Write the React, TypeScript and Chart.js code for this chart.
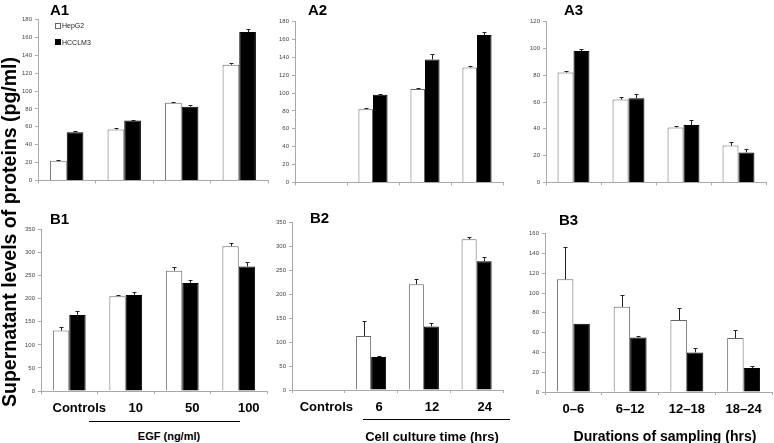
import React, { useEffect, useRef } from "react";
import { Chart, registerables } from "chart.js";

Chart.register(...registerables);

// ---------- data ----------
const egfLabels = ["Controls", "10", "50", "100"];
const timeLabels = ["Controls", "6", "12", "24"];
const samplingLabels = ["0–6", "6–12", "12–18", "18–24"];

const seriesNames = ["HepG2", "HCCLM3"];

// A1: vs EGF dose
const a1HepG2 = [22, 57, 87, 129.5];
const a1HepG2Err = [1, 2, 1, 1.5];
const a1HCCLM3 = [54, 67, 82.5, 166];
const a1HCCLM3Err = [1.5, 1, 1.5, 3.5];

// A2: vs culture time
const a2HepG2 = [null, 82, 104.5, 128.5];
const a2HepG2Err = [0, 1, 1, 1.5];
const a2HCCLM3 = [null, 98, 137.5, 165];
const a2HCCLM3Err = [0, 1.5, 6, 3];

// A3: vs sampling duration
const a3HepG2 = [82, 61.8, 41, 27.5];
const a3HepG2Err = [1, 2.2, 1, 2.5];
const a3HCCLM3 = [98, 62.8, 42.8, 22.4];
const a3HCCLM3Err = [1.5, 3, 4, 2.4];

// B1
const b1HepG2 = [131, 205.5, 261, 314];
const b1HepG2Err = [7, 3, 7, 6.5];
const b1HCCLM3 = [165, 208, 234, 270];
const b1HCCLM3Err = [8, 7, 7, 9];

// B2
const b2HepG2 = [null, 113, 221, 315];
const b2HepG2Err = [0, 32, 10.5, 5];
const b2HCCLM3 = [null, 69, 133, 269];
const b2HCCLM3Err = [0, 2, 8, 8.5];

// B3
const b3HepG2 = [113.8, 86, 72.7, 54.5];
const b3HepG2Err = [32.5, 11.5, 12.6, 8.2];
const b3HCCLM3 = [69, 55, 40, 24.2];
const b3HCCLM3Err = [0, 2, 4.8, 2.4];

const a1Ticks = { max: 180, step: 20 };
const a3Ticks = { max: 120, step: 20 };
const bTicks = { max: 350, step: 50 };
const b3Ticks = { max: 160, step: 20 };

// ---------- layout ----------
const Y_W = 24;
const PAD_TOP = 6;
const PAD_RIGHT = 3;

type Panel = {
  id: string;
  labels: string[];
  hep: (number | null)[];
  hepErr: number[];
  hcc: (number | null)[];
  hccErr: number[];
  max: number;
  step: number;
  left: number;
  top: number;
  right: number;
  bottom: number;
  showX: boolean;
  catPct: number;
  labelOffset: number;
};

const panels: Panel[] = [
  { id: "A1", labels: egfLabels, hep: a1HepG2, hepErr: a1HepG2Err, hcc: a1HCCLM3, hccErr: a1HCCLM3Err, max: a1Ticks.max, step: a1Ticks.step, left: 38, top: 19, right: 268, bottom: 183, showX: false, catPct: 0.58, labelOffset: 0 },
  { id: "A2", labels: timeLabels, hep: a2HepG2, hepErr: a2HepG2Err, hcc: a2HCCLM3, hccErr: a2HCCLM3Err, max: a1Ticks.max, step: a1Ticks.step, left: 295, top: 21, right: 503, bottom: 185, showX: false, catPct: 0.56, labelOffset: 0 },
  { id: "A3", labels: samplingLabels, hep: a3HepG2, hepErr: a3HepG2Err, hcc: a3HCCLM3, hccErr: a3HCCLM3Err, max: a3Ticks.max, step: a3Ticks.step, left: 546, top: 21, right: 766, bottom: 185, showX: false, catPct: 0.58, labelOffset: 0 },
  { id: "B1", labels: egfLabels, hep: b1HepG2, hepErr: b1HepG2Err, hcc: b1HCCLM3, hccErr: b1HCCLM3Err, max: bTicks.max, step: bTicks.step, left: 41, top: 229, right: 267, bottom: 391, showX: true, catPct: 0.58, labelOffset: 10 },
  { id: "B2", labels: timeLabels, hep: b2HepG2, hepErr: b2HepG2Err, hcc: b2HCCLM3, hccErr: b2HCCLM3Err, max: bTicks.max, step: bTicks.step, left: 292, top: 222, right: 503, bottom: 390, showX: true, catPct: 0.57, labelOffset: 8 },
  { id: "B3", labels: samplingLabels, hep: b3HepG2, hepErr: b3HepG2Err, hcc: b3HCCLM3, hccErr: b3HCCLM3Err, max: b3Ticks.max, step: b3Ticks.step, left: 545, top: 233, right: 772, bottom: 392, showX: true, catPct: 0.58, labelOffset: 0 },
];

const errorBars = {
  id: "errorBars",
  afterDatasetsDraw(chart: any) {
    const ctx = chart.ctx;
    const ys = chart.scales.y;
    chart.data.datasets.forEach((ds: any, i: number) => {
      const meta = chart.getDatasetMeta(i);
      meta.data.forEach((bar: any, j: number) => {
        const v = ds.data[j];
        const e = ds.errors ? ds.errors[j] : 0;
        if (v == null || !e) return;
        const x = Math.round(bar.x) + 0.5;
        const y0 = ys.getPixelForValue(v);
        const y1 = Math.round(ys.getPixelForValue(v + e)) + 0.5;
        ctx.save();
        ctx.strokeStyle = "#222";
        ctx.lineWidth = 1;
        ctx.beginPath();
        ctx.moveTo(x, y0);
        ctx.lineTo(x, y1);
        ctx.moveTo(x - 2, y1);
        ctx.lineTo(x + 2, y1);
        ctx.stroke();
        ctx.restore();
      });
    });
  },
};

function PanelChart({ p }: { p: Panel }) {
  const ref = useRef<HTMLCanvasElement>(null);
  const xH = p.showX ? 30 : 4;
  const cLeft = p.left - Y_W;
  const cTop = p.top - PAD_TOP;
  const cW = p.right + PAD_RIGHT - cLeft;
  const cH = p.bottom + xH - cTop;

  useEffect(() => {
    if (!ref.current) return;
    const chart = new Chart(ref.current, {
      type: "bar",
      data: {
        labels: p.labels,
        datasets: [
          { label: seriesNames[0], data: p.hep, errors: p.hepErr, backgroundColor: "#ffffff", borderColor: "#666", borderWidth: 1, categoryPercentage: p.catPct, barPercentage: 1 } as any,
          { label: seriesNames[1], data: p.hcc, errors: p.hccErr, backgroundColor: "#000000", borderColor: "#000000", borderWidth: 1, categoryPercentage: p.catPct, barPercentage: 1 } as any,
        ],
      },
      options: {
        responsive: false,
        maintainAspectRatio: false,
        animation: false,
        devicePixelRatio: 1,
        layout: { padding: { top: PAD_TOP, right: PAD_RIGHT, left: 0, bottom: 0 } },
        plugins: { legend: { display: false }, tooltip: { enabled: false }, title: { display: false } },
        scales: {
          x: {
            offset: true,
            grid: { display: true, drawOnChartArea: false, tickLength: 3, color: "#aaa", offset: true },
            border: { color: "#aaa" },
            ticks: {
              display: p.showX,
              autoSkip: false,
              maxRotation: 0,
              minRotation: 0,
              padding: 7,
              labelOffset: p.labelOffset,
              color: "#000",
              font: { family: "Arial, 'Liberation Sans', sans-serif", size: 13, weight: "bold" },
            },
            afterFit: (s: any) => { s.height = xH; },
          },
          y: {
            min: 0,
            max: p.max,
            grid: { display: true, drawOnChartArea: false, tickLength: 3, color: "#aaa" },
            border: { color: "#aaa" },
            ticks: {
              stepSize: p.step,
              padding: 3,
              color: "#444",
              font: { family: "Arial, 'Liberation Sans', sans-serif", size: 6 },
            },
            afterFit: (s: any) => { s.width = Y_W; },
          },
        },
      } as any,
      plugins: [errorBars],
    });
    return () => chart.destroy();
  }, []);

  return (
    <canvas
      ref={ref}
      width={cW}
      height={cH}
      style={{ position: "absolute", left: cLeft, top: cTop, width: cW, height: cH }}
    />
  );
}

const panelLabelPos: Record<string, [number, number]> = {
  A1: [50, 10], A2: [308, 10], A3: [564, 10],
  B1: [50, 219], B2: [310, 218], B3: [559, 220],
};

export default function App() {
  const font = "Arial, 'Liberation Sans', sans-serif";
  return (
    <div style={{ position: "fixed", left: 0, top: 0, width: 774, height: 443, background: "#fff", overflow: "hidden", fontFamily: font }}>
      {panels.map((p) => (
        <PanelChart key={p.id} p={p} />
      ))}
      {panels.map((p) => (
        <div key={"l" + p.id} style={{ position: "absolute", left: panelLabelPos[p.id][0], top: panelLabelPos[p.id][1] - 8, fontSize: 15, fontWeight: "bold", lineHeight: "16px", color: "#000" }}>
          {p.id}
        </div>
      ))}
      {/* legend in A1 */}
      <div style={{ position: "absolute", left: 55, top: 23, width: 4, height: 4, border: "1px solid #666", background: "#fff" }} />
      <div style={{ position: "absolute", left: 62, top: 21, fontSize: 7, lineHeight: "9px", color: "#222" }}>{seriesNames[0]}</div>
      <div style={{ position: "absolute", left: 55, top: 39, width: 6, height: 6, background: "#000" }} />
      <div style={{ position: "absolute", left: 62, top: 38, fontSize: 7, lineHeight: "9px", color: "#222" }}>{seriesNames[1]}</div>
      {/* y axis title */}
      <div style={{ position: "absolute", left: 9, top: 232, transform: "translate(-50%, -50%) rotate(-90deg)", whiteSpace: "nowrap", fontSize: 19.5, lineHeight: "20px", fontWeight: "bold", color: "#000" }}>
        Supernatant levels of proteins (pg/ml)
      </div>
      {/* group underlines and x titles */}
      <div style={{ position: "absolute", left: 89, top: 421, width: 151, height: 1, background: "#000" }} />
      <div style={{ position: "absolute", left: 169, top: 436, transform: "translate(-50%, -50%)", whiteSpace: "nowrap", fontSize: 11, fontWeight: "bold", fontFamily: "'Liberation Sans Narrow', 'Arial Narrow', " + font }}>
        EGF (ng/ml)
      </div>
      <div style={{ position: "absolute", left: 363, top: 419, width: 147, height: 1, background: "#000" }} />
      <div style={{ position: "absolute", left: 432, top: 436, transform: "translate(-50%, -50%)", whiteSpace: "nowrap", fontSize: 13, fontWeight: "bold" }}>
        Cell culture time (hrs)
      </div>
      <div style={{ position: "absolute", left: 665, top: 436, transform: "translate(-50%, -50%)", whiteSpace: "nowrap", fontSize: 14, fontWeight: "bold" }}>
        Durations of sampling (hrs)
      </div>
    </div>
  );
}
